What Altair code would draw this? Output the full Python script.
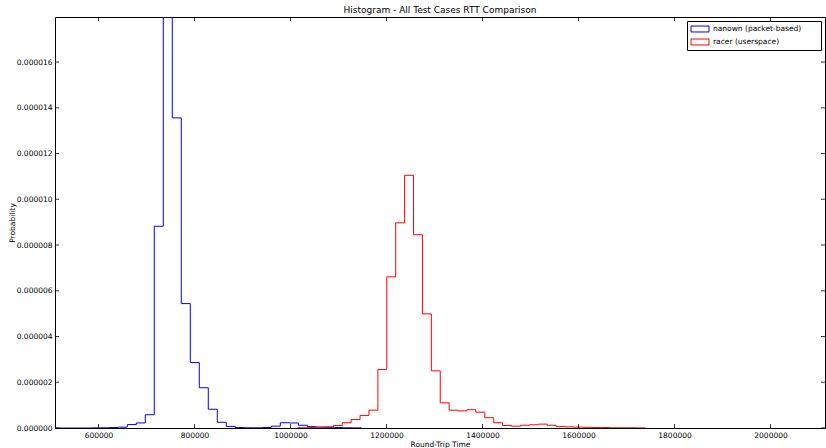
import altair as alt
import pandas as pd

# ---- data (densities in units of 1e-6) ----
series_names = ["nanown (packet-based)", "racer (userspace)"]
series_colors = ["#0000ff", "#ff0000"]

blue_start = 510000
blue_width = 18750
blue_density = [0, 0, 0, 0, 0.005, 0.01, 0.02, 0.035, 0.15, 0.22, 0.58, 8.82,
                17.97, 13.56, 5.44, 2.86, 1.76, 0.82, 0.25, 0.07, 0.02, 0.01,
                0.01, 0.02, 0.08, 0.23, 0.22, 0.12, 0.06, 0.04, 0.03, 0.02,
                0.01, 0.005]

red_start = 1015000
red_width = 18560
red_density = [0.01, 0.02, 0.03, 0.05, 0.11, 0.23, 0.37, 0.55, 0.78, 2.56,
               6.61, 8.97, 11.05, 8.45, 4.99, 2.50, 1.10, 0.78, 0.75, 0.80,
               0.69, 0.45, 0.23, 0.11, 0.08, 0.12, 0.14, 0.17, 0.12, 0.07,
               0.05, 0.04, 0.03, 0.02, 0.02, 0.01, 0.01, 0.01, 0.005]

unit = 1e-6
x_ticks = [600000, 800000, 1000000, 1200000, 1400000, 1600000, 1800000, 2000000]
y_ticks = [0, 2e-6, 4e-6, 6e-6, 8e-6, 10e-6, 12e-6, 14e-6, 16e-6]
x_domain = [509400, 2113500]
y_domain = [0, max(blue_density) * unit]

W, H = 770, 411


def step_rows(start, width, vals, name):
    rows = []
    edges = [start + i * width for i in range(len(vals) + 1)]
    pts = [(edges[0], 0.0)] + [(edges[i], v * unit) for i, v in enumerate(vals)] + [(edges[-1], 0.0)]
    for i, (x, y) in enumerate(pts):
        rows.append({"x": x, "y": y, "series": name, "idx": i})
    return rows


df = pd.DataFrame(step_rows(blue_start, blue_width, blue_density, series_names[0])
                  + step_rows(red_start, red_width, red_density, series_names[1]))

xs = alt.Scale(domain=x_domain, nice=False, zero=False)
ys = alt.Scale(domain=y_domain, nice=False, zero=False)

# trailing blank room in the legend box (zero-width char keeps it from being trimmed)
pad = "\u00a0" * 7 + "\u200b"

lines = alt.Chart(df).mark_line(interpolate="step-after", strokeWidth=1, clip=True).encode(
    x=alt.X("x:Q", scale=xs,
            axis=alt.Axis(values=x_ticks, format="d", title="Round-Trip Time",
                          labelPadding=3, titlePadding=2, ticks=False, domain=False,
                          grid=False, labelFlush=False)),
    y=alt.Y("y:Q", scale=ys,
            axis=alt.Axis(values=y_ticks, format=".6f", title="Probability",
                          labelPadding=3, titlePadding=0, ticks=False, domain=False,
                          grid=False)),
    color=alt.Color("series:N",
                    scale=alt.Scale(domain=series_names, range=series_colors),
                    legend=alt.Legend(title=None, orient="top-right", offset=4,
                                      strokeColor="black", fillColor="white",
                                      padding=3, rowPadding=3, labelOffset=8,
                                      symbolOffset=5,
                                      labelFontSize=7.5, labelColor="black",
                                      labelFont="DejaVu Sans",
                                      symbolType="M-2,-0.66H2V0.66H-2Z",
                                      symbolSize=81, symbolStrokeWidth=1,
                                      symbolFillColor="white",
                                      labelExpr="datum.label + '" + pad + "'")),
    order="idx:Q",
)

xt = pd.DataFrame({"x": x_ticks})
yt = pd.DataFrame({"y": y_ticks})

tick_style = dict(color="black", strokeWidth=0.8)
bottom_ticks = alt.Chart(xt).mark_rule(**tick_style).encode(
    x=alt.X("x:Q", scale=xs), y=alt.value(H), y2=alt.value(H - 4))
top_ticks = alt.Chart(xt).mark_rule(**tick_style).encode(
    x=alt.X("x:Q", scale=xs), y=alt.value(0), y2=alt.value(4))
left_ticks = alt.Chart(yt).mark_rule(**tick_style).encode(
    y=alt.Y("y:Q", scale=ys), x=alt.value(0), x2=alt.value(4))
right_ticks = alt.Chart(yt).mark_rule(**tick_style).encode(
    y=alt.Y("y:Q", scale=ys), x=alt.value(W - 4), x2=alt.value(W))

chart = alt.layer(lines, bottom_ticks, top_ticks, left_ticks, right_ticks).properties(
    width=W, height=H,
    title=alt.Title("Histogram - All Test Cases RTT Comparison", fontSize=9,
                    fontWeight="normal", font="DejaVu Sans", color="black",
                    anchor="middle", offset=2),
    autosize=alt.AutoSizeParams(type="none"),
    padding={"left": 55, "top": 17, "right": 1, "bottom": 20},
).configure_view(stroke="black", strokeWidth=1).configure_axis(
    labelFont="DejaVu Sans", labelFontSize=7.5, labelColor="black",
    titleFont="DejaVu Sans", titleFontSize=7.5, titleFontWeight="normal",
    titleColor="black",
)

chart.save("out.html", embed_options={"renderer": "svg", "actions": False})
